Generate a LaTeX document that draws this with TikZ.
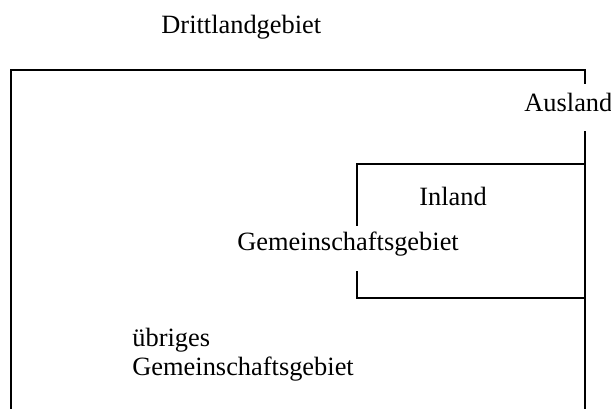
\documentclass[tikz,border=0pt]{standalone}
\usepackage{fontspec}
\setmainfont{Liberation Serif}
\usetikzlibrary{positioning}

\begin{document}
\begin{tikzpicture}[
        x=0.5pt, y=-0.5pt, % one unit = one pixel of the page
        every node/.style={anchor=base west, inner sep=0pt, font=\fontsize{13.2}{16}\selectfont},
        frame/.style={line width=1pt, line cap=rect}
      ]
      \useasboundingbox (0,0) rectangle (611,408);

      % Nodes
      \node (drittland) at (161,33) {Drittlandgebiet};
      \node (ausland) at (524,111) {Ausland};
      \node (inland) at (419,205) {Inland};
      \node (gemeinschaft) at (237,250) {Gemeinschaftsgebiet};
      \node (uebriges) at (132,346) {übriges};
      \node (uebrigesgem) at (132,375) {Gemeinschaftsgebiet};

      % Outer frame (Ausland)
      \draw[frame] (585,83) -- (585,70) -- (11,70) -- (11,412);
      \draw[frame] (585,132) -- (585,412);

      % Inner frame (Inland)
      \draw[frame] (357,225) -- (357,164) -- (585,164);
      \draw[frame] (357,272) -- (357,298) -- (585,298);

    \end{tikzpicture}
\end{document}
